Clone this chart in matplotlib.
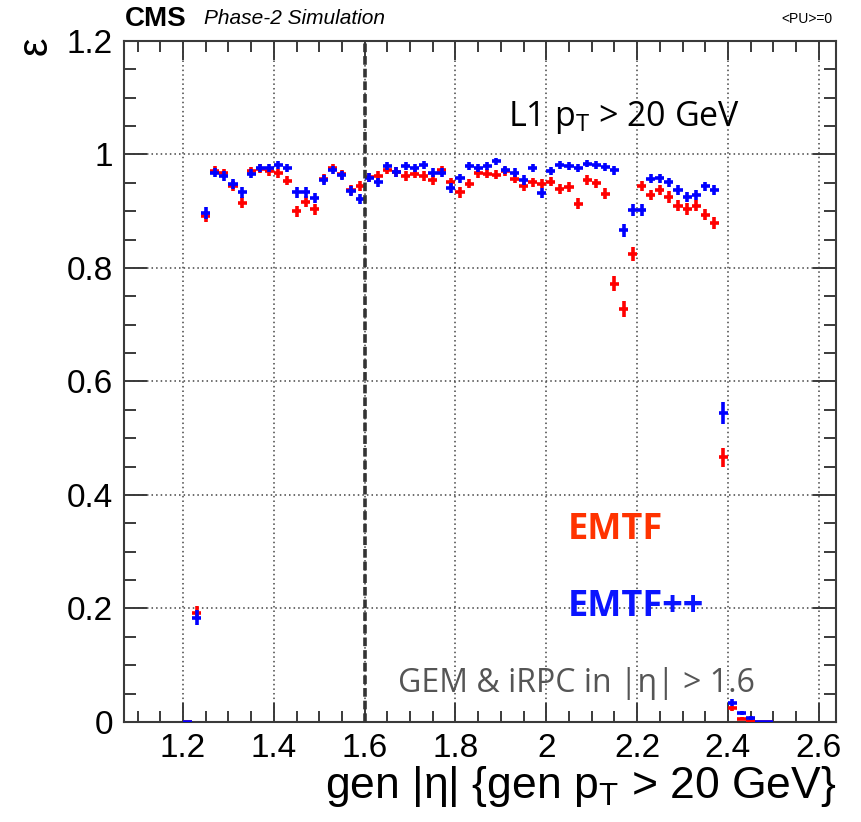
import numpy as np
import matplotlib as mpl
mpl.use("Agg")
import matplotlib.pyplot as plt
from matplotlib.ticker import MultipleLocator, FixedLocator

plt.rcParams["font.family"] = ["Liberation Sans", "DejaVu Sans"]
plt.rcParams["mathtext.default"] = "regular"
plt.rcParams["axes.unicode_minus"] = False

# |eta| bin centres (bin width 0.02)
ETA = [1.21, 1.23, 1.25, 1.27, 1.29, 1.31, 1.33, 1.35, 1.37, 1.39,
       1.41, 1.43, 1.45, 1.47, 1.49, 1.51, 1.53, 1.55, 1.57, 1.59,
       1.61, 1.63, 1.65, 1.67, 1.69, 1.71, 1.73, 1.75, 1.77, 1.79,
       1.81, 1.83, 1.85, 1.87, 1.89, 1.91, 1.93, 1.95, 1.97, 1.99,
       2.01, 2.03, 2.05, 2.07, 2.09, 2.11, 2.13, 2.15, 2.17, 2.19,
       2.21, 2.23, 2.25, 2.27, 2.29, 2.31, 2.33, 2.35, 2.37, 2.39,
       2.41, 2.43, 2.45, 2.47, 2.49]
HALF_BIN = 0.01

# EMTF efficiency
EFF_EMTF = [0.000, 0.192, 0.891, 0.971, 0.967, 0.945, 0.915, 0.970, 0.975, 0.970,
            0.967, 0.954, 0.900, 0.917, 0.903, 0.957, 0.976, 0.965, 0.937, 0.944,
            0.960, 0.962, 0.973, 0.969, 0.962, 0.966, 0.962, 0.955, 0.972, 0.951,
            0.933, 0.948, 0.967, 0.966, 0.964, 0.970, 0.957, 0.945, 0.951, 0.948,
            0.952, 0.939, 0.943, 0.913, 0.955, 0.949, 0.931, 0.772, 0.727, 0.825,
            0.944, 0.929, 0.937, 0.925, 0.910, 0.904, 0.910, 0.894, 0.879, 0.466,
            0.024, 0.006, 0.002, 0.000, 0.000]
ERR_EMTF = [0.000, 0.013, 0.010, 0.008, 0.008, 0.009, 0.010, 0.008, 0.008, 0.008,
            0.008, 0.008, 0.010, 0.010, 0.010, 0.008, 0.007, 0.008, 0.009, 0.009,
            0.008, 0.008, 0.008, 0.008, 0.008, 0.008, 0.008, 0.008, 0.008, 0.008,
            0.009, 0.008, 0.008, 0.008, 0.008, 0.008, 0.008, 0.009, 0.008, 0.008,
            0.008, 0.009, 0.009, 0.010, 0.008, 0.008, 0.009, 0.013, 0.014, 0.012,
            0.009, 0.009, 0.009, 0.010, 0.010, 0.010, 0.010, 0.010, 0.011, 0.017,
            0.005, 0.003, 0.002, 0.000, 0.000]

# EMTF++ efficiency
EFF_EMTFPP = [0.000, 0.184, 0.897, 0.968, 0.962, 0.948, 0.933, 0.966, 0.976, 0.976,
              0.982, 0.976, 0.933, 0.933, 0.923, 0.955, 0.973, 0.963, 0.936, 0.922,
              0.959, 0.951, 0.979, 0.969, 0.979, 0.976, 0.982, 0.968, 0.968, 0.941,
              0.958, 0.979, 0.976, 0.979, 0.988, 0.973, 0.968, 0.955, 0.976, 0.932,
              0.970, 0.982, 0.979, 0.976, 0.984, 0.981, 0.978, 0.972, 0.866, 0.902,
              0.902, 0.957, 0.958, 0.951, 0.938, 0.925, 0.929, 0.944, 0.938, 0.544,
              0.034, 0.016, 0.007, 0.000, 0.000]
ERR_EMTFPP = [0.000, 0.013, 0.010, 0.008, 0.008, 0.009, 0.009, 0.008, 0.007, 0.007,
              0.007, 0.007, 0.009, 0.009, 0.009, 0.008, 0.007, 0.008, 0.009, 0.009,
              0.008, 0.008, 0.007, 0.008, 0.007, 0.007, 0.007, 0.008, 0.008, 0.009,
              0.008, 0.007, 0.007, 0.007, 0.006, 0.007, 0.008, 0.008, 0.007, 0.009,
              0.007, 0.007, 0.007, 0.007, 0.007, 0.007, 0.007, 0.008, 0.011, 0.010,
              0.010, 0.008, 0.008, 0.008, 0.009, 0.009, 0.009, 0.008, 0.009, 0.019,
              0.006, 0.004, 0.003, 0.000, 0.000]

X_TICKS = [1.2, 1.4, 1.6, 1.8, 2.0, 2.2, 2.4, 2.6]
X_TICKLABELS = ["1.2", "1.4", "1.6", "1.8", "2", "2.2", "2.4", "2.6"]
Y_TICKS = [0.0, 0.2, 0.4, 0.6, 0.8, 1.0, 1.2]
Y_TICKLABELS = ["0", "0.2", "0.4", "0.6", "0.8", "1", "1.2"]

C_EMTF = "#ff0000"
C_EMTFPP = "#0000ff"
C_FRAME = "#3a3a3a"

fig = plt.figure(figsize=(8.61, 8.22), dpi=100)
ax = fig.add_axes([0.144, 0.1217, 0.827, 0.8285])

xerr = [HALF_BIN] * len(ETA)
ax.errorbar(ETA, EFF_EMTF, xerr=xerr, yerr=ERR_EMTF, fmt="none",
            ecolor=C_EMTF, elinewidth=2.6, capsize=0, zorder=3)
ax.errorbar(ETA, EFF_EMTFPP, xerr=xerr, yerr=ERR_EMTFPP, fmt="none",
            ecolor=C_EMTFPP, elinewidth=2.6, capsize=0, zorder=4)

# boundary of GEM / iRPC coverage
ax.axvline(1.6, color="#333333", lw=2.6, ls=(0, (2.4, 1.1)), zorder=5)

ax.set_xlim(1.07, 2.638)
ax.set_ylim(0, 1.2)
ax.xaxis.set_major_locator(FixedLocator(X_TICKS))
ax.xaxis.set_minor_locator(MultipleLocator(0.05))
ax.yaxis.set_major_locator(FixedLocator(Y_TICKS))
ax.yaxis.set_minor_locator(MultipleLocator(0.05))
ax.set_xticklabels(X_TICKLABELS)
ax.set_yticklabels(Y_TICKLABELS)

ax.grid(True, which="major", color="#444444", lw=1.1, ls=(0, (1, 2)), zorder=1)
ax.tick_params(which="both", direction="in", top=True, right=True,
               color=C_FRAME, width=1.4, labelsize=24, labelcolor="black")
ax.tick_params(axis="x", which="major", length=14, pad=8)
ax.tick_params(axis="x", which="minor", length=8)
ax.tick_params(axis="y", which="major", length=16.5, pad=8)
ax.tick_params(axis="y", which="minor", length=8.5)
for s in ax.spines.values():
    s.set_color(C_FRAME)
    s.set_linewidth(1.5)

ax.set_xlabel("gen |η| {gen p$_{T}$ > 20 GeV}", fontsize=32, loc="right", labelpad=0)
fig.text(36 / 861, 1 - 46 / 822, "ε", rotation=90, fontsize=30,
         ha="center", va="center")

# header
fig.text(125 / 861, 1 - 19 / 822, "CMS", fontsize=20, fontweight="bold",
         ha="left", va="center")
fig.text(204 / 861, 1 - 19 / 822, "Phase-2 Simulation", fontsize=15,
         style="italic", ha="left", va="center")
fig.text(833 / 861, 1 - 19 / 822, "<PU>=0", fontsize=10, ha="right", va="center")

# annotations
OS = ["Open Sans", "DejaVu Sans"]
fig.text(508 / 861, 1 - 118 / 822, "L1 p$_{T}$ > 20 GeV", fontsize=24.5, family=OS,
         ha="left", va="center")
fig.text(568 / 861, 1 - 530 / 822, "EMTF", fontsize=26, fontweight="bold",
         family=OS, color="#ff3300", ha="left", va="center")
fig.text(568 / 861, 1 - 607 / 822, "EMTF++", fontsize=26, fontweight="bold",
         family=OS, color="#0a14ff", ha="left", va="center")
fig.text(398 / 861, 1 - 683 / 822, "GEM & iRPC in |η| > 1.6", fontsize=23,
         family=OS, color="#555555", ha="left", va="center")

fig.savefig("out.png", dpi=100, facecolor="white")
